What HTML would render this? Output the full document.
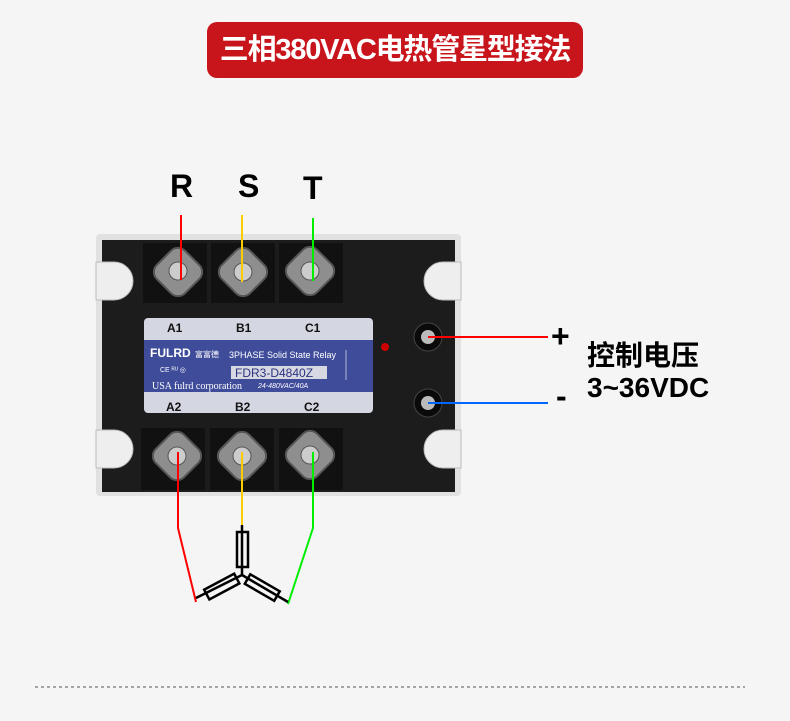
<!DOCTYPE html><html><head><meta charset="utf-8"><style>
body{margin:0;width:790px;height:721px;background:#f5f5f5;position:relative;overflow:hidden;font-family:"Liberation Sans","Noto Sans CJK SC",sans-serif}
.a{position:absolute}
</style></head><body>
<div class="a" style="left:207px;top:22px;width:376px;height:56px;background:#c8141b;border-radius:10px;color:#fff;font-size:29px;font-weight:bold;line-height:56px;text-align:center;letter-spacing:-1.2px;white-space:nowrap">三相380VAC电热管星型接法</div>
<div class="a" style="left:170px;top:168px;font-size:32px;font-weight:bold">R</div>
<div class="a" style="left:238px;top:168px;font-size:32px;font-weight:bold">S</div>
<div class="a" style="left:303px;top:170px;font-size:32px;font-weight:bold">T</div>
<svg class="a" style="left:0;top:0" width="790" height="721">
<rect x="96" y="234" width="365" height="262" rx="4" fill="#d8d8d8" opacity="0.7"/>
<path d="M102 240 H455 V492 H102 Z" fill="#1c1c1c"/>
<path d="M96 262 h18 a16 16 0 0 1 0 38 h-18 Z" fill="#eee" stroke="#bbb"/>
<path d="M96 430 h18 a16 16 0 0 1 0 38 h-18 Z" fill="#eee" stroke="#bbb"/>
<path d="M461 262 h-18 a16 16 0 0 0 0 38 h18 Z" fill="#eee" stroke="#bbb"/>
<path d="M461 430 h-18 a16 16 0 0 0 0 38 h18 Z" fill="#eee" stroke="#bbb"/>
<g fill="#111"><rect x="143" y="243" width="64" height="60"/><rect x="211" y="243" width="64" height="60"/><rect x="279" y="243" width="64" height="60"/><rect x="141" y="428" width="64" height="62"/><rect x="210" y="428" width="64" height="62"/><rect x="279" y="428" width="64" height="62"/></g>
<g fill="#8e8e8e" stroke="#555" stroke-width="2">
<rect x="158" y="252" width="40" height="40" rx="10" transform="rotate(45 178 272)"/><rect x="223" y="252" width="40" height="40" rx="10" transform="rotate(45 243 272)"/><rect x="290" y="251" width="40" height="40" rx="10" transform="rotate(45 310 271)"/>
<rect x="157" y="436" width="40" height="40" rx="10" transform="rotate(45 177 456)"/><rect x="222" y="436" width="40" height="40" rx="10" transform="rotate(45 242 456)"/><rect x="290" y="435" width="40" height="40" rx="10" transform="rotate(45 310 455)"/>
</g>
<g fill="#ccc" stroke="#555"><circle cx="178" cy="271" r="9"/><circle cx="243" cy="272" r="9"/><circle cx="310" cy="271" r="9"/><circle cx="177" cy="456" r="9"/><circle cx="242" cy="456" r="9"/><circle cx="310" cy="455" r="9"/></g>
<g><circle cx="428" cy="337" r="14" fill="#0a0a0a" stroke="#444"/><circle cx="428" cy="337" r="7" fill="#bbb"/><circle cx="428" cy="403" r="14" fill="#0a0a0a" stroke="#444"/><circle cx="428" cy="403" r="7" fill="#bbb"/></g>
<circle cx="385" cy="347" r="4" fill="#c00"/>
<rect x="144" y="318" width="229" height="95" rx="4" fill="#d4d6e2"/>
<rect x="144" y="340" width="229" height="52" fill="#3f4c9a"/>
<g font-family="Liberation Sans" font-weight="bold" font-size="12" fill="#111"><text x="167" y="332">A1</text><text x="236" y="332">B1</text><text x="305" y="332">C1</text><text x="166" y="411">A2</text><text x="235" y="411">B2</text><text x="304" y="411">C2</text></g>
<text x="150" y="357" font-family="Liberation Sans" font-weight="bold" font-size="12" fill="#fff">FULRD</text>
<text x="195" y="357" font-family="Noto Sans CJK SC" font-size="8" fill="#fff">富富德</text>
<text x="229" y="358" font-family="Liberation Sans" font-size="9" fill="#fff">3PHASE Solid State Relay</text>
<text x="160" y="372" font-family="Liberation Sans" font-size="7" fill="#fff">CE ᴿᵁ ◎</text>
<rect x="231" y="366" width="96" height="13" fill="#d8d8e2"/>
<text x="235" y="377" font-family="Liberation Sans" font-size="12" fill="#2a3480">FDR3-D4840Z</text>
<text x="152" y="389" font-family="Liberation Serif" font-size="10" fill="#fff">USA fulrd corporation</text>
<text x="258" y="388" font-family="Liberation Sans" font-style="italic" font-size="7" fill="#fff">24-480VAC/40A</text>
<path d="M346 350v30" stroke="#fff" fill="none" stroke-width="0.6"/>
<g stroke-width="2" fill="none">
<path d="M181 215V280" stroke="#f00"/><path d="M242 215V282" stroke="#fc0"/><path d="M313 218V281" stroke="#0e0"/>
<path d="M178 452V528L196 602" stroke="#f00"/><path d="M242 452V525" stroke="#fc0"/><path d="M313 452V528L288 604" stroke="#0e0"/>
<path d="M428 337H548" stroke="#f00"/><path d="M428 403H548" stroke="#06f"/>
</g>
<g stroke="#000" stroke-width="2.5" fill="none">
<path d="M242 525V575L196 598M242 575L288 602"/>
<rect x="237" y="532" width="11" height="35"/>
<g transform="rotate(-28 222 587)"><rect x="205" y="581" width="34" height="11"/></g>
<g transform="rotate(30 262 588)"><rect x="245" y="582" width="34" height="11"/></g>
</g>
<line x1="35" y1="687" x2="745" y2="687" stroke="#555" stroke-dasharray="3,3"/>
</svg>
<div class="a" style="left:551px;top:318px;font-size:32px;font-weight:bold">+</div>
<div class="a" style="left:556px;top:378px;font-size:32px;font-weight:bold">-</div>
<div class="a" style="left:587px;top:340px;font-size:28px;font-weight:bold;line-height:32px">控制电压<br>3~36VDC</div>
</body></html>
